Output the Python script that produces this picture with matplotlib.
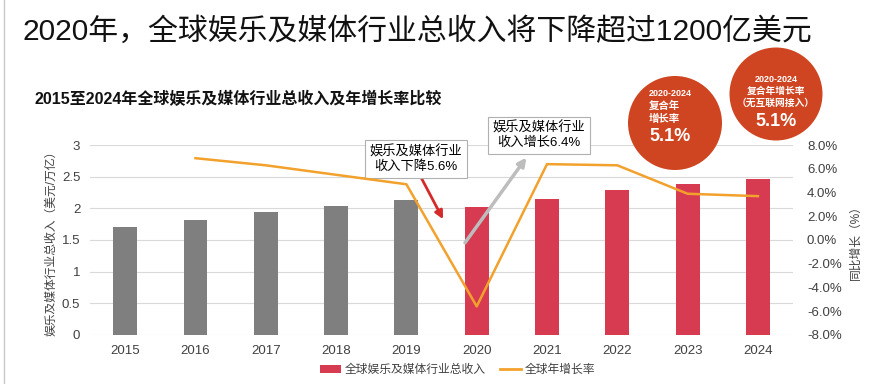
import matplotlib
matplotlib.use("Agg")
import matplotlib.pyplot as plt
from matplotlib.patches import Circle, Patch
from matplotlib.lines import Line2D
import numpy as np

plt.rcParams['font.family'] = ['Liberation Sans', 'Noto Sans CJK SC', 'DejaVu Sans']

# data
years = ['2015', '2016', '2017', '2018', '2019', '2020', '2021', '2022', '2023', '2024']
revenue = [1.71, 1.82, 1.94, 2.04, 2.14, 2.02, 2.15, 2.29, 2.38, 2.46]  # 万亿美元
growth = [np.nan, 6.9, 6.3, 5.5, 4.7, -5.6, 6.4, 6.3, 3.9, 3.7]  # %
left_ticks = [0, 0.5, 1, 1.5, 2, 2.5, 3]
right_ticks = [-8, -6, -4, -2, 0, 2, 4, 6, 8]

GRAY = '#7f7f7f'
RED = '#d63b51'
ORANGE = '#f2a12c'
CIRCLE = '#cf4521'

fig = plt.figure(figsize=(8.88, 3.84), dpi=100)
ax = fig.add_axes([0.1014, 0.128, 0.7917, 0.494])
ax2 = ax.twinx()

x = np.arange(len(years))
colors = [GRAY if int(y) < 2020 else RED for y in years]
ax.bar(x, revenue, width=0.34, color=colors, zorder=2)
ax.set_xlim(-0.5, len(years) - 0.5)
ax.set_ylim(0, 3)
ax.set_yticks(left_ticks)
ax.set_yticklabels([f'{t:g}' for t in left_ticks])
ax.set_xticks(x)
ax.set_xticklabels(years)
ax.grid(axis='y', color='#d9d9d9', linewidth=0.8, zorder=0)
ax.set_axisbelow(True)
ax.tick_params(length=0, labelsize=9.5, colors='#404040', pad=7)
ax.set_ylabel('娱乐及媒体行业总收入（美元/万亿）', fontsize=8.5, color='#404040', labelpad=3)

ax2.plot(x, growth, color=ORANGE, linewidth=1.8, zorder=3)
ax2.set_ylim(-8, 8)
ax2.set_yticks(right_ticks)
ax2.set_yticklabels([f'{t:.1f}%' for t in right_ticks])
ax2.tick_params(length=0, labelsize=9.5, colors='#404040', pad=10)
ax2.set_ylabel('同比增长（%）', fontsize=8.5, color='#404040', labelpad=6, rotation=90)

for a in (ax, ax2):
    for s in a.spines.values():
        s.set_visible(False)

# callouts
box = dict(boxstyle='square,pad=0.35', facecolor='white', edgecolor='#b0b0b0', linewidth=0.8)
ax.text(4.13, 2.78, '娱乐及媒体行业\n收入下降5.6%', ha='center', va='center',
        fontsize=9.5, linespacing=1.25, bbox=box, zorder=6)
ax.text(5.89, 3.16, '娱乐及媒体行业\n收入增长6.4%', ha='center', va='center',
        fontsize=9.5, linespacing=1.25, bbox=box, zorder=6)
ax.annotate('', xy=(4.54, 1.79), xytext=(4.17, 2.57), annotation_clip=False,
            arrowprops=dict(arrowstyle='-|>', color='#d42a2a', lw=2, mutation_scale=12))
ax.annotate('', xy=(5.73, 2.84), xytext=(4.81, 1.42), annotation_clip=False,
            arrowprops=dict(arrowstyle='-|>', color='#bdbdbd', lw=2.5, mutation_scale=12))

# titles
fig.text(0.025, 0.918, '2020年，全球娱乐及媒体行业总收入将下降超过1200亿美元',
         fontsize=21.5, color='#111111', va='center', ha='left')
fig.text(0.039, 0.742, '2015至2024年全球娱乐及媒体行业总收入及年增长率比较',
         fontsize=11.5, fontweight='bold', color='#111111', va='center', ha='left')

# CAGR circles
tr = fig.dpi_scale_trans
fig.add_artist(Circle((6.75, 2.61), 0.47, transform=tr, facecolor=CIRCLE, edgecolor='none', zorder=5))
fig.add_artist(Circle((7.76, 2.90), 0.465, transform=tr, facecolor=CIRCLE, edgecolor='none', zorder=5))
fig.text(6.49, 2.90, '2020-2024', transform=tr, color='white', fontsize=6.5, fontweight='bold', va='center', zorder=6)
fig.text(6.49, 2.78, '复合年', transform=tr, color='white', fontsize=7.5, fontweight='bold', va='center', zorder=6)
fig.text(6.49, 2.65, '增长率', transform=tr, color='white', fontsize=7.5, fontweight='bold', va='center', zorder=6)
fig.text(6.49, 2.47, '5.1%', transform=tr, color='white', fontsize=13, fontweight='bold', va='center', zorder=6)
fig.text(7.76, 3.05, '2020-2024', transform=tr, color='white', fontsize=6.5, fontweight='bold', ha='center', va='center', zorder=6)
fig.text(7.76, 2.93, '复合年增长率', transform=tr, color='white', fontsize=7, fontweight='bold', ha='center', va='center', zorder=6)
fig.text(7.76, 2.81, '（无互联网接入）', transform=tr, color='white', fontsize=7, fontweight='bold', ha='center', va='center', zorder=6)
fig.text(7.76, 2.63, '5.1%', transform=tr, color='white', fontsize=13, fontweight='bold', ha='center', va='center', zorder=6)

# legend
handles = [Patch(facecolor=RED, label='全球娱乐及媒体行业总收入'),
           Line2D([0], [0], color=ORANGE, lw=2, label='全球年增长率')]
fig.legend(handles=handles, loc='center', bbox_to_anchor=(0.515, 0.036), ncol=2, frameon=False,
           fontsize=8.5, handlelength=1.8, handleheight=0.6, columnspacing=1.2, handletextpad=0.3,
           labelcolor='#404040')

# thin frame line at the left edge
fig.add_artist(Line2D([0.005, 0.005], [0, 1], transform=fig.transFigure, color='#c8c8c8', lw=1))

fig.savefig('out.png', dpi=100)
